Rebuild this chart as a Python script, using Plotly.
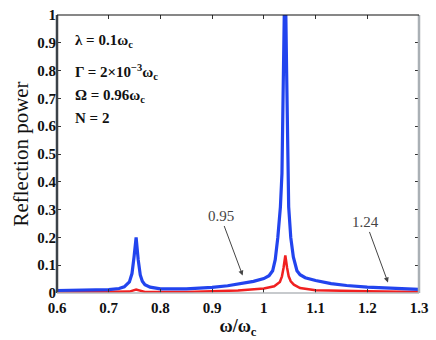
import plotly.graph_objects as go

# curva azul (N=2)
blue_x = [0.60, 0.65, 0.70, 0.72, 0.73, 0.74, 0.745, 0.749, 0.753, 0.757, 0.761, 0.765,
          0.77, 0.78, 0.80, 0.85, 0.90, 0.93, 0.96, 0.98, 1.00, 1.01, 1.017, 1.022,
          1.027, 1.032, 1.035, 1.038, 1.041, 1.044, 1.046, 1.048, 1.052, 1.057, 1.064,
          1.07, 1.08, 1.10, 1.13, 1.16, 1.20, 1.24, 1.30]
blue_y = [0.009, 0.010, 0.012, 0.016, 0.022, 0.040, 0.070, 0.13, 0.20, 0.12, 0.065, 0.042,
          0.030, 0.021, 0.015, 0.015, 0.020, 0.026, 0.035, 0.042, 0.052, 0.062, 0.08, 0.12,
          0.20, 0.31, 0.43, 0.80, 1.2, 0.80, 0.43, 0.31, 0.20, 0.13, 0.08,
          0.066, 0.055, 0.045, 0.034, 0.027, 0.021, 0.017, 0.013]

# curva vermelha
red_x = [0.60, 0.70, 0.74, 0.753, 0.77, 0.85, 0.90, 0.95, 1.00, 1.02, 1.031, 1.035,
         1.038, 1.0415, 1.045, 1.048, 1.052, 1.058, 1.07, 1.10, 1.20, 1.30]
red_y = [0.002, 0.003, 0.005, 0.012, 0.004, 0.004, 0.006, 0.009, 0.016, 0.024, 0.04, 0.06,
         0.09, 0.135, 0.09, 0.06, 0.042, 0.03, 0.018, 0.01, 0.006, 0.004]

x_ticks = [0.6, 0.7, 0.8, 0.9, 1.0, 1.1, 1.2, 1.3]
x_labels = ["0.6", "0.7", "0.8", "0.9", "1", "1.1", "1.2", "1.3"]
y_ticks = [0, 0.1, 0.2, 0.3, 0.4, 0.5, 0.6, 0.7, 0.8, 0.9, 1]
y_labels = ["0", "0.1", "0.2", "0.3", "0.4", "0.5", "0.6", "0.7", "0.8", "0.9", "1"]

serif = "Liberation Serif"

fig = go.Figure()
fig.add_trace(go.Scatter(x=red_x, y=red_y, mode="lines",
                         line=dict(color="#f02020", width=2.5), showlegend=False))
fig.add_trace(go.Scatter(x=blue_x, y=blue_y, mode="lines",
                         line=dict(color="#2244ee", width=3.2), showlegend=False))

eixo = dict(showline=False, mirror="ticks", ticks="inside", ticklen=4, tickwidth=1,
            tickcolor="#333", showgrid=False, zeroline=False, ticklabeloverflow="allow",
            tickfont=dict(family=serif, size=15, color="#111"))

fig.update_xaxes(range=[0.6, 1.3], tickvals=x_ticks, ticklabelstandoff=4,
                 ticktext=["<b>%s</b>" % t for t in x_labels],
                 title=dict(text="<b>ω/ω<sub>c</sub></b>", standoff=0,
                            font=dict(family=serif, size=18, color="#111")), **eixo)
fig.update_yaxes(range=[0, 1], tickvals=y_ticks,
                 ticktext=["<b>%s</b>" % t for t in y_labels],
                 title=dict(text="Reflection power", standoff=2,
                            font=dict(family=serif, size=21, color="#111")), **eixo)

# bordas da caixa com cores diferentes como no original
bordas = [
    (0, 0, 0, 1, "#3c4248", 2.5),
    (1, 0, 1, 1, "#aab0b5", 2.5),
    (0, 1, 1, 1, "#111111", 1.2),
    (0, 0, 1, 0, "#b5b9bd", 1.5),
]
for x0, y0, x1, y1, cor, w in bordas:
    fig.add_shape(type="line", xref="paper", yref="paper", x0=x0, y0=y0, x1=x1, y1=y1,
                  line=dict(color=cor, width=w))

params = ["<b>λ = 0.1ω<sub>c</sub></b>", "<b>Γ = 2×10<sup>−3</sup>ω<sub>c</sub></b>",
          "<b>Ω = 0.96ω<sub>c</sub></b>", "<b>N = 2</b>"]
ys_param = [0.905, 0.795, 0.71, 0.63]
for t, yy in zip(params, ys_param):
    fig.add_annotation(text=t, xref="paper", yref="paper", x=0.045, y=yy,
                       xanchor="left", yanchor="middle", showarrow=False,
                       font=dict(family=serif, size=15, color="#111"))

# setas
fig.add_annotation(x=0.959, y=0.063, text="0.95", ax=-22, ay=-59, showarrow=True,
                   arrowhead=2, arrowsize=1, arrowwidth=1, arrowcolor="#444",
                   font=dict(family=serif, size=15, color="#444"))
fig.add_annotation(x=1.24, y=0.038, text="1.24", ax=-22, ay=-60, showarrow=True,
                   arrowhead=2, arrowsize=1, arrowwidth=1, arrowcolor="#444",
                   font=dict(family=serif, size=15, color="#444"))

fig.update_layout(width=436, height=340, margin=dict(l=57, r=17, t=7, b=47),
                  plot_bgcolor="white", paper_bgcolor="white")

fig.write_html("out.html", config={"displayModeBar": False},
               post_script="document.body.style.margin='0';")
